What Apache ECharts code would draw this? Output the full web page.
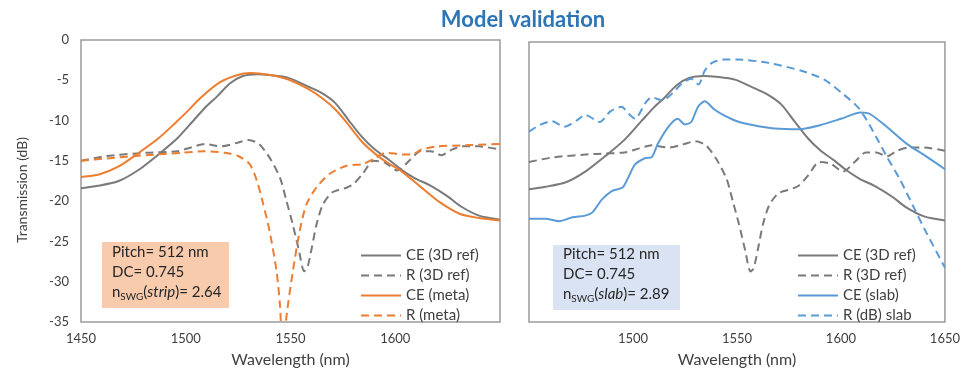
<!DOCTYPE html>
<html><head><meta charset="utf-8">
<script src="https://cdn.jsdelivr.net/npm/echarts@6/dist/echarts.min.js"></script>
<style>html,body{margin:0;padding:0;background:#fff}#c{width:963px;height:373px}</style>
</head><body><div id="c"></div>
<script>
// ---- data (wavelength in nm, transmission in dB) ----
const xTicks = [1450, 1500, 1550, 1600, 1650];
const yTicks = [0, -5, -10, -15, -20, -25, -30, -35];

const wlCE3D = [1450,1458,1468,1477.6,1487,1496,1504,1510,1515,1521,1527,1534,1540,1549,1558.6,1565,1571.3,1577.6,1584,1590.3,1596.7,1603,1609,1617,1625,1631,1640,1650];
const ce3D   = [-18.4,-18.1,-17.5,-16.1,-14.2,-12.2,-9.9,-8.2,-7.0,-5.4,-4.5,-4.25,-4.35,-4.7,-5.8,-6.6,-7.8,-9.9,-12.0,-13.6,-14.8,-16.1,-17.1,-18.1,-19.4,-20.6,-21.8,-22.3];

const wlR3D = [1450,1462,1481,1496,1503,1509,1517,1524,1530,1535,1540,1545,1548,1551,1554,1556.5,1558,1560,1562.5,1565.5,1570,1577,1580,1584.5,1589.5,1595,1601,1607,1612,1617,1622,1627,1632,1640,1650];
const r3D   = [-15.0,-14.4,-14.0,-13.8,-13.3,-12.9,-13.2,-12.8,-12.4,-12.9,-14.6,-17.1,-19.9,-22.8,-26.1,-28.7,-28.3,-26.0,-22.8,-20.4,-18.9,-18.3,-17.9,-16.6,-15.0,-15.2,-16.2,-14.9,-13.8,-13.8,-14.3,-13.6,-13.2,-13.2,-13.6];

const wlCEMeta = [1450,1458.6,1468,1477.6,1487,1495,1501,1507,1516,1524,1531,1539.5,1549,1558.6,1565,1571.3,1577.6,1584,1590.3,1596.7,1603,1612,1621,1631,1640,1650];
const ceMeta   = [-17.0,-16.7,-15.7,-14.0,-12.2,-10.3,-8.8,-7.2,-5.3,-4.4,-4.1,-4.3,-4.9,-6.1,-7.2,-8.6,-10.5,-12.6,-14.1,-15.3,-16.3,-18.2,-20.1,-21.6,-22.1,-22.4];

const wlRMeta = [1450,1462,1481,1498,1509,1518.6,1525,1530.5,1534,1537,1540,1543.3,1544.9,1546.6,1548,1551.2,1554.4,1557.6,1562.4,1568.7,1576.7,1584.6,1589.4,1595.7,1603.5,1608,1612.5,1620,1631,1650];
const rMeta   = [-15.0,-14.7,-14.3,-14.0,-13.8,-14.0,-14.4,-15.4,-17.5,-20.4,-23.7,-28.6,-32.7,-40,-34.5,-28.6,-23.7,-20.4,-18.3,-16.6,-15.6,-15.4,-14.8,-14.0,-14.2,-14.2,-13.6,-13.2,-13.1,-12.9];

const wlCESlab = [1450,1458,1464.5,1471,1477,1480.5,1485,1490,1495,1498,1501,1506,1509,1512,1517,1521.5,1525,1528,1531.3,1534.5,1539,1544,1550,1558,1568,1580,1590,1600,1609.5,1614,1622,1631.5,1641,1650];
const ceSlab   = [-22.1,-22.1,-22.4,-21.9,-21.7,-21.3,-19.7,-18.6,-18.2,-16.8,-15.3,-14.5,-14.4,-12.7,-10.6,-9.6,-10.3,-10.0,-8.1,-7.4,-8.4,-9.2,-9.9,-10.4,-10.8,-10.9,-10.4,-9.6,-8.8,-9.0,-10.6,-12.7,-14.3,-15.9];

const wlRSlab = [1450,1455,1461,1467,1473,1477,1484,1489,1494.5,1498,1501,1506,1509,1514,1519,1523.5,1528,1531.5,1534.5,1538,1544,1550,1565,1581,1592,1601,1608,1612.5,1617,1622,1628.4,1634.7,1641,1650];
const rSlab   = [-11.2,-10.4,-9.9,-10.6,-9.8,-9.1,-10.0,-8.7,-8.1,-9.0,-9.6,-7.6,-6.9,-7.3,-6.4,-5.2,-4.6,-5.3,-3.6,-2.6,-2.2,-2.2,-2.6,-3.6,-4.7,-6.5,-8.1,-9.8,-11.9,-14.3,-17.2,-20.5,-23.8,-28.2];

const leftNames  = ['CE (3D ref)', 'R (3D ref)', 'CE (meta)', 'R (meta)'];
const rightNames = ['CE (3D ref)', 'R (3D ref)', 'CE (slab)', 'R (dB) slab'];
const titleText = 'Model validation';
const yName = 'Transmission (dB)';
const xName = 'Wavelength (nm)';

// ---- chart ----
const GRAY = '#7a7a7a', ORANGE = '#ED7D31', BLUE = '#5B9BD5';
const FONT = 'Lato';
const TXT = '#404040';
const pairs = (xs, ys) => xs.map((x, i) => [x, ys[i]]);

function line(name, xs, ys, color, dashed, idx) {
  return {
    name, type: 'line', xAxisIndex: idx, yAxisIndex: idx,
    data: pairs(xs, ys), symbol: 'none', smooth: 0.25, clip: true,
    lineStyle: { color, width: 2, type: dashed ? [8, 5] : 'solid' },
    itemStyle: { color }
  };
}

function xAxis(idx, hideMin, hideMax) {
  return {
    type: 'value', gridIndex: idx, min: 1450, max: 1650, interval: 50,
    name: xName, nameLocation: 'middle', nameGap: 30,
    nameTextStyle: { fontFamily: FONT, fontSize: 16, color: TXT },
    axisLine: { show: false }, axisTick: { show: false }, splitLine: { show: false },
    axisLabel: { fontFamily: FONT, fontSize: 13, color: TXT, margin: 10,
      showMinLabel: !hideMin, showMaxLabel: !hideMax,
      formatter: v => (xTicks.includes(v) ? String(v) : '') }
  };
}
function yAxis(idx, showLabels) {
  return {
    type: 'value', gridIndex: idx, min: -35, max: 0, interval: 5,
    axisLine: { show: false }, axisTick: { show: false }, splitLine: { show: false },
    axisLabel: { show: showLabels, fontFamily: FONT, fontSize: 13, color: TXT, margin: 12,
      formatter: v => (yTicks.includes(v) ? String(v) : '') }
  };
}
function legend(names, left) {
  return {
    data: names, orient: 'vertical', left, top: 243,
    itemWidth: 40, itemHeight: 14, itemGap: 5, itemStyle: { opacity: 0 },
    textStyle: { fontFamily: FONT, fontSize: 15, color: TXT, lineHeight: 14 },
    selectedMode: false
  };
}
function noteBox(x, y, w, h, fill, label, val, ty) {
  return [
    { type: 'rect', shape: { x, y, width: w, height: h }, style: { fill }, z: 1 },
    { type: 'text', x: x + 10, y: ty, z: 2,
      style: {
        text: 'Pitch= 512 nm\nDC= 0.745\nn{s|SWG}({i|' + label + '})= ' + val,
        fontFamily: FONT, fontSize: 15, fill: '#262626', lineHeight: 19.7,
        textVerticalAlign: 'top',
        rich: {
          s: { fontFamily: FONT, fontSize: 10, lineHeight: 12, verticalAlign: 'bottom', fill: '#262626' },
          i: { fontFamily: FONT, fontSize: 15, fontStyle: 'italic', fill: '#262626' }
        }
      } }
  ];
}

const chart = echarts.init(document.getElementById('c'), null, { renderer: 'canvas' });
chart.setOption({
  animation: false,
  backgroundColor: '#fff',
  grid: [
    { left: 81, top: 40, width: 419, height: 283, show: true, borderColor: '#9a9a9a', borderWidth: 1.5, backgroundColor: 'transparent' },
    { left: 529, top: 42, width: 419, height: 284, show: true, borderColor: '#9a9a9a', borderWidth: 1.5, backgroundColor: 'transparent' }
  ],
  xAxis: [xAxis(0, false, true), xAxis(1, true, false)],
  yAxis: [yAxis(0, true), yAxis(1, false)],
  legend: [legend(leftNames, 355), legend(rightNames, 792)],
  graphic: [
    { type: 'text', x: 523, y: 20, style: { text: titleText, fontFamily: FONT, fontSize: 22, fontWeight: 'bold', fill: '#2E75B6', textAlign: 'center', textVerticalAlign: 'middle' } },
    { type: 'text', x: 22, y: 190, rotation: Math.PI / 2, style: { text: yName, fontFamily: FONT, fontSize: 14, fill: TXT, textAlign: 'center', textVerticalAlign: 'middle' } },
    ...noteBox(102, 242, 127, 66, '#F8CBAD', 'strip', '2.64', 242.5),
    ...noteBox(553, 245, 127, 65, '#DAE3F3', 'slab', '2.89', 244.5)
  ],
  series: [
    line(leftNames[0], wlCE3D, ce3D, GRAY, false, 0),
    line(leftNames[1], wlR3D, r3D, GRAY, true, 0),
    line(leftNames[2], wlCEMeta, ceMeta, ORANGE, false, 0),
    line(leftNames[3], wlRMeta, rMeta, ORANGE, true, 0),
    line(rightNames[0], wlCE3D, ce3D, GRAY, false, 1),
    line(rightNames[1], wlR3D, r3D, GRAY, true, 1),
    line(rightNames[2], wlCESlab, ceSlab, BLUE, false, 1),
    line(rightNames[3], wlRSlab, rSlab, BLUE, true, 1)
  ]
});
</script></body></html>
